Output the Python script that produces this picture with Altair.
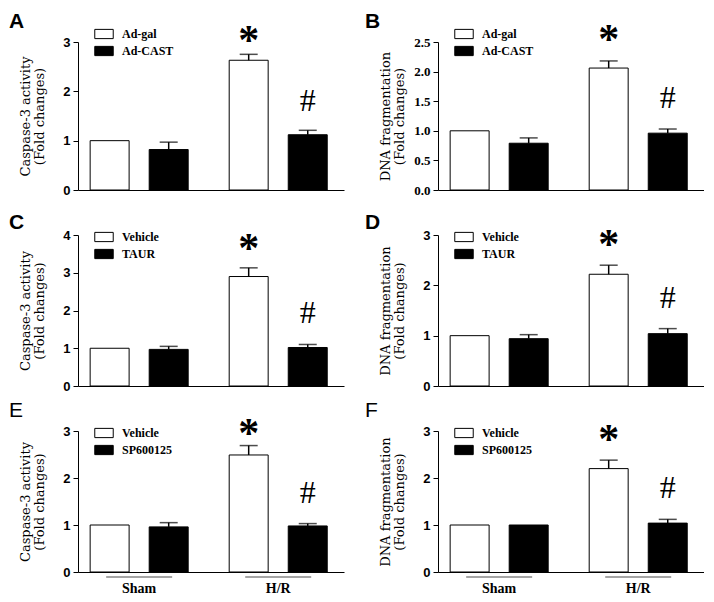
import altair as alt
import pandas as pd

groups = ["Sham", "H/R"]
marks = ["", "", "*", "#"]

A_trt = ["Ad-gal", "Ad-CAST"]
A_mean = [1.00, 0.82, 2.63, 1.12]
A_sem = [0.00, 0.15, 0.12, 0.09]
A_ticks = [0, 1, 2, 3]

B_trt = ["Ad-gal", "Ad-CAST"]
B_mean = [1.00, 0.79, 2.06, 0.96]
B_sem = [0.00, 0.09, 0.12, 0.07]
B_ticks = [0.0, 0.5, 1.0, 1.5, 2.0, 2.5]

C_trt = ["Vehicle", "TAUR"]
C_mean = [1.00, 0.97, 2.90, 1.02]
C_sem = [0.00, 0.08, 0.23, 0.08]
C_ticks = [0, 1, 2, 3, 4]

D_trt = ["Vehicle", "TAUR"]
D_mean = [1.00, 0.94, 2.22, 1.04]
D_sem = [0.00, 0.08, 0.18, 0.10]
D_ticks = [0, 1, 2, 3]

E_trt = ["Vehicle", "SP600125"]
E_mean = [1.00, 0.96, 2.49, 0.98]
E_sem = [0.00, 0.09, 0.20, 0.05]
E_ticks = [0, 1, 2, 3]

F_trt = ["Vehicle", "SP600125"]
F_mean = [1.00, 1.00, 2.20, 1.04]
F_sem = [0.00, 0.00, 0.18, 0.08]
F_ticks = [0, 1, 2, 3]

casp_title = ["Caspase-3 activity", "(Fold changes)"]
dna_title = ["DNA fragmentation", "(Fold changes)"]

W = 266


def panel(letter, trt, mean, sem, ticks, ytitle, fmt, label_font, height,
          bottom, leg_y, star_dy, hash_dy, letter_weight, letter_x, letter_y,
          tpad):
    rows = []
    for gi, g in enumerate(groups):
        for ti, t in enumerate(trt):
            i = gi * 2 + ti
            rows.append({"group": g, "trt": t, "mean": mean[i],
                         "hi": mean[i] + sem[i], "mark": marks[i]})
    df = pd.DataFrame(rows)
    base = alt.Chart(df)

    xaxis = alt.Axis(labels=bottom, ticks=False, domainColor="black",
                     domainWidth=1, labelFont="Liberation Serif",
                     labelFontWeight="bold", labelFontSize=14,
                     labelPadding=9, labelColor="black", labelAngle=0,
                     title=None)
    xscale = alt.Scale(domain=groups, paddingInner=0.295,
                       paddingOuter=0.104, align=0.42)
    x = alt.X("group:N", sort=groups, scale=xscale, axis=xaxis)
    xo = alt.XOffset("trt:N", sort=trt,
                     scale=alt.Scale(domain=trt, paddingInner=0.34,
                                     paddingOuter=0))
    yscale = alt.Scale(domain=[ticks[0], ticks[-1]], nice=False, zero=True)
    yaxis = alt.Axis(values=ticks, format=fmt, title=ytitle,
                     titleFont="DejaVu Serif", titleFontSize=13,
                     titleFontWeight="normal", titleColor="black",
                     titleLineHeight=14, titlePadding=tpad,
                     labelFont=label_font, labelFontWeight="bold",
                     labelFontSize=13, labelColor="black", labelPadding=3,
                     tickColor="black", tickSize=5, domainColor="black",
                     grid=False)

    def Y(field):
        return alt.Y(field, scale=yscale, axis=yaxis)

    bars = base.mark_bar(stroke="black", strokeWidth=1).encode(
        x=x, xOffset=xo, y=Y("mean:Q"),
        fill=alt.Fill("trt:N", sort=trt,
                      scale=alt.Scale(domain=trt, range=["white", "black"]),
                      legend=alt.Legend(
                          title=None, orient="none", legendX=16,
                          legendY=leg_y, direction="vertical",
                          symbolType="M-1,-0.5H1V0.5H-1Z", symbolSize=340,
                          symbolStrokeColor="black", symbolStrokeWidth=1,
                          labelFont="Liberation Serif",
                          labelFontWeight="bold", labelFontSize=12,
                          labelOffset=8, rowPadding=0, padding=0,
                          labelColor="black")),
    )
    errb = base.transform_filter("datum.hi > datum.mean")
    err = errb.mark_rule(color="black", strokeWidth=1.5).encode(
        x=x, xOffset=xo, y=Y("mean:Q"), y2="hi:Q")
    cap = errb.mark_tick(color="black", thickness=1.5, size=18,
                         orient="horizontal").encode(
        x=x, xOffset=xo, y=Y("hi:Q"))
    star = base.transform_filter("datum.mark == '*'").mark_text(
        font="Liberation Serif", fontWeight="bold", fontSize=42,
        baseline="alphabetic", dy=star_dy, color="black").encode(
        x=x, xOffset=xo, y=Y("hi:Q"), text="mark:N")
    hsh = base.transform_filter("datum.mark == '#'").mark_text(
        font="Liberation Serif", fontSize=32, baseline="alphabetic",
        dy=hash_dy, color="black").encode(
        x=x, xOffset=xo, y=Y("hi:Q"), text="mark:N")
    lab = alt.Chart(pd.DataFrame({"letter": [letter]})).mark_text(
        font="Liberation Sans", fontWeight=letter_weight, fontSize=21,
        align="left", baseline="top", color="black").encode(
        text="letter:N", x=alt.value(letter_x), y=alt.value(letter_y))
    layers = [bars, err, cap, star, hsh, lab]
    if bottom:
        under = base.transform_filter("datum.trt == '%s'" % trt[0]).mark_tick(
            color="black", thickness=1, size=66, orient="horizontal").encode(
            x=x, y=alt.value(height + 5))
        layers.append(under)
    return alt.layer(*layers).properties(width=W, height=height).resolve_scale(
        fill="independent")


pA = panel("A", A_trt, A_mean, A_sem, A_ticks, casp_title, "d",
           "Liberation Sans", 148, False, -18, 0, -19, "bold", -69, -31, 16)
pB = panel("B", B_trt, B_mean, B_sem, B_ticks, dna_title, ".1f",
           "Liberation Serif", 148, False, -18, -8, -21, "bold", -73, -31, 7)
pC = panel("C", C_trt, C_mean, C_sem, C_ticks, casp_title, "d",
           "Liberation Sans", 151, False, -8, -6, -21, "bold", -69, -23, 16)
pD = panel("D", D_trt, D_mean, D_sem, D_ticks, dna_title, "d",
           "Liberation Sans", 151, False, -8, -7, -21, "bold", -73, -23, 16)
pE = panel("E", E_trt, E_mean, E_sem, E_ticks, casp_title, "d",
           "Liberation Sans", 141, True, -8, 1, -21, "normal", -69, -31, 16)
pF = panel("F", F_trt, F_mean, F_sem, F_ticks, dna_title, "d",
           "Liberation Sans", 141, True, -8, -7, -21, "normal", -73, -31, 16)

chart = alt.concat(pA, pB, pC, pD, pE, pF, columns=2, bounds="flush",
                   spacing=alt.RowColnumber(row=45, column=94)).resolve_scale(
    x="independent", y="independent", xOffset="independent",
    fill="independent").resolve_legend(fill="independent").properties(
    padding={"left": 1, "top": 3, "right": 0, "bottom": 0},
    background="white").configure_view(stroke=None)

chart.save("out.html", embed_options={"renderer": "svg", "actions": False})
